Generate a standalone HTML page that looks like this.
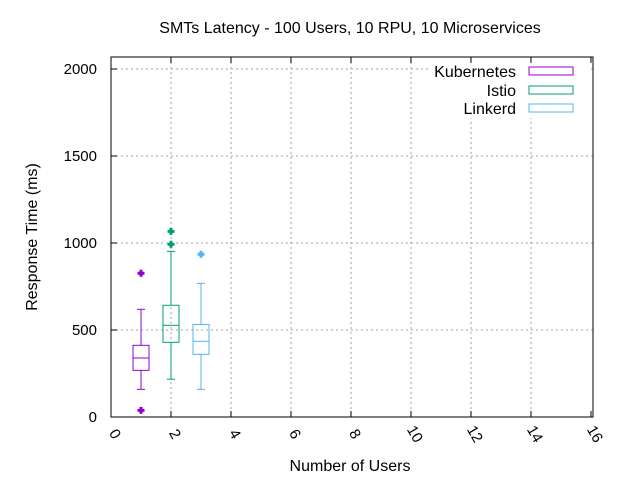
<!DOCTYPE html>
<html><head><meta charset="utf-8"><style>
body{margin:0;background:#fff;}
svg text{font-family:"Liberation Sans",sans-serif;fill:#000;}
</style></head><body>
<svg id="c" width="640" height="480" xmlns="http://www.w3.org/2000/svg">
<text x="350" y="33" font-size="16" text-anchor="middle">SMTs Latency - 100 Users, 10 RPU, 10 Microservices</text>
<text x="37" y="237" font-size="16" text-anchor="middle" transform="rotate(-90 37 237)">Response Time (ms)</text>
<text x="350" y="471" font-size="16" text-anchor="middle">Number of Users</text>
<g id="grid"></g>
<rect x="430" y="60" width="160" height="58" fill="#fff"/>
<g id="marks"></g><g id="ticks"></g>
<rect x="111" y="57" width="482" height="360" fill="none" stroke="#000" stroke-width="1"/>
<g>
<text x="516" y="77" font-size="16" text-anchor="end">Kubernetes</text>
<rect x="529" y="67" width="44" height="8" fill="none" stroke="#9400d3"/>
<text x="516" y="96" font-size="16" text-anchor="end">Istio</text>
<rect x="529" y="86" width="44" height="8" fill="none" stroke="#009e73"/>
<text x="516" y="114" font-size="16" text-anchor="end">Linkerd</text>
<rect x="529" y="104" width="44" height="8" fill="none" stroke="#56b4e9"/>
</g>
</svg>
<script>
const series=["Kubernetes","Istio","Linkerd"];
const xpos=[1,2,3];
const wlow=[159,217,159];
const q1=[268,429,360];
const med=[339,527,435];
const q3=[412,642,532];
const whigh=[619,952,768];
const outliers=[[826,38],[1067,993],[935]];
const colors=["#9400d3","#009e73","#56b4e9"];
const yTicks=[0,500,1000,1500,2000];
const xTicks=[0,2,4,6,8,10,12,14,16];
const NS="http://www.w3.org/2000/svg";
const X=v=>111+v*30, Y=v=>417-v*0.174;
function mk(t,a,p){const e=document.createElementNS(NS,t);for(const k in a)e.setAttribute(k,a[k]);p.appendChild(e);return e;}
const grid=document.getElementById('grid'),ticks=document.getElementById('ticks'),marks=document.getElementById('marks');
yTicks.forEach(v=>{
 if(v>0){const g=mk('line',{x1:111,x2:593,y1:Y(v),y2:Y(v),stroke:'#a0a0a0','stroke-dasharray':'2,3'},grid);
 
 }
 const t=mk('text',{x:97,y:Y(v)+5,'font-size':15,'text-anchor':'end'},ticks);t.textContent=v;
 
 
 mk('line',{x1:111,x2:117,y1:Y(v),y2:Y(v),stroke:'#000'},ticks);
});
xTicks.forEach(v=>{
 if(v>0&&v<16){const g=mk('line',{x1:X(v),x2:X(v),y1:57,y2:417,stroke:'#a0a0a0','stroke-dasharray':'2,3'},grid);
 
 }
 mk('line',{x1:X(v),x2:X(v),y1:417,y2:411,stroke:'#000'},ticks);
 mk('line',{x1:X(v),x2:X(v),y1:57,y2:63,stroke:'#000'},ticks);
 const cx=X(v)+4,cy=434;
 const t=mk('text',{x:cx,y:cy+5,'font-size':15,'text-anchor':'middle',transform:`rotate(60 ${cx} ${cy})`},ticks);t.textContent=v;
 
 
});
series.forEach((s,i)=>{
 const g=mk('g',{stroke:colors[i],fill:'none','stroke-width':1},marks);
 
 
 const cx=X(xpos[i]),hw=8,cw=4;
 mk('line',{x1:cx,x2:cx,y1:Y(whigh[i]),y2:Y(q3[i])},g);
 mk('line',{x1:cx,x2:cx,y1:Y(q1[i]),y2:Y(wlow[i])},g);
 mk('line',{x1:cx-cw,x2:cx+cw,y1:Y(whigh[i]),y2:Y(whigh[i])},g);
 mk('line',{x1:cx-cw,x2:cx+cw,y1:Y(wlow[i]),y2:Y(wlow[i])},g);
 mk('rect',{x:cx-hw,y:Y(q3[i]),width:2*hw,height:Y(q1[i])-Y(q3[i])},g);
 mk('line',{x1:cx-hw,x2:cx+hw,y1:Y(med[i]),y2:Y(med[i])},g);
 outliers[i].forEach(o=>{
  const y=Y(o);
  const p=mk('path',{d:`M${cx-1.5},${y-3.5}h3v2h2v3h-2v2h-3v-2h-2v-3h2z`,fill:colors[i],stroke:'none'},marks);
  
  
 });
});
</script>
</body></html>
